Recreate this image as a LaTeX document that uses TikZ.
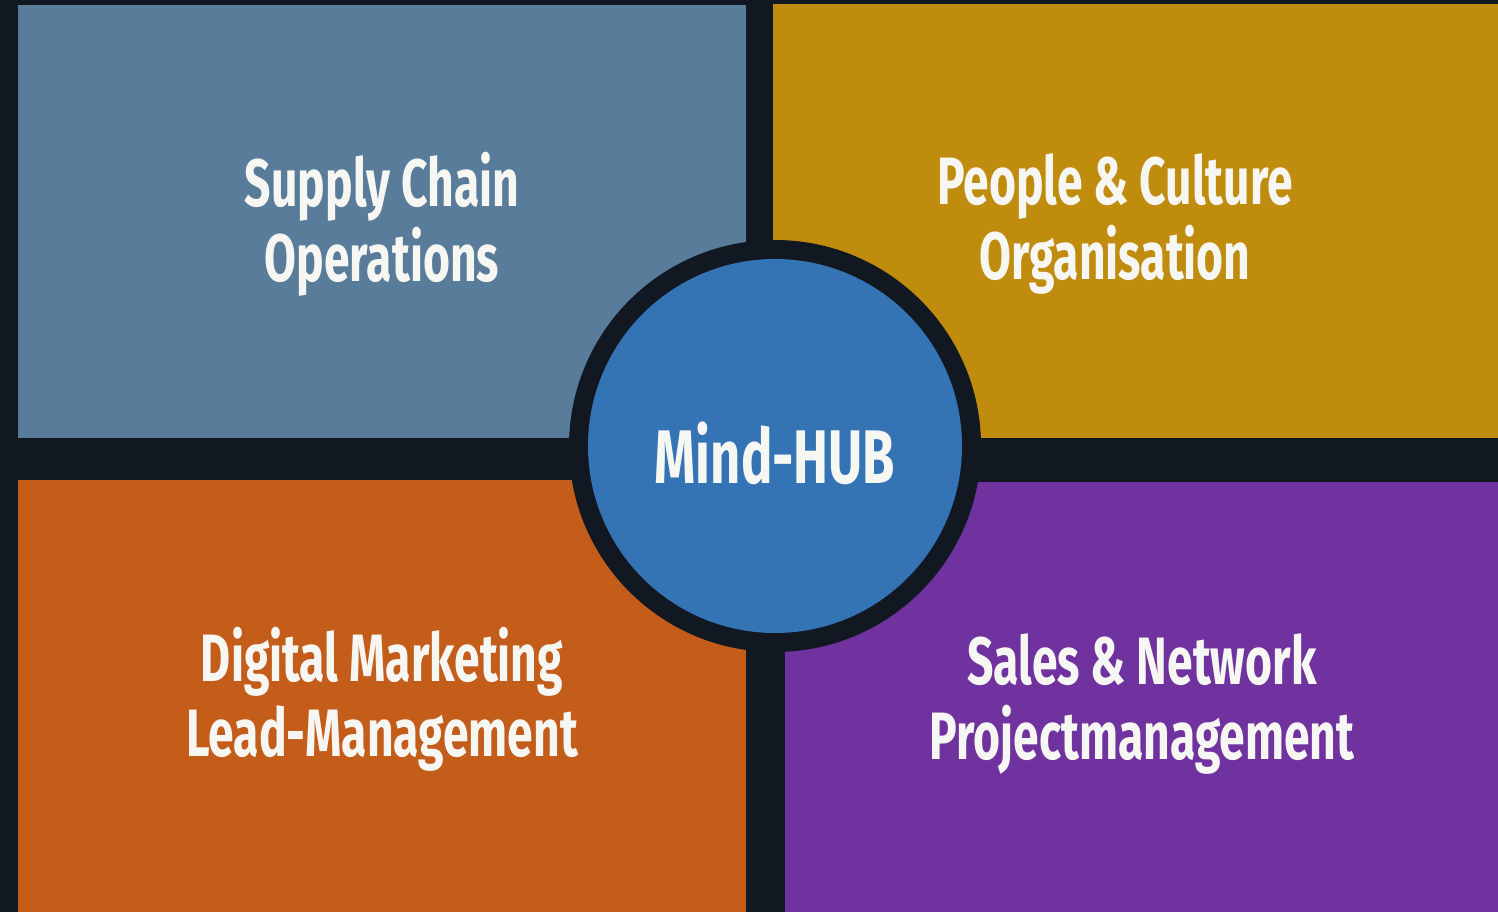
\documentclass[tikz,border=0pt]{standalone}
\usepackage{fontspec}
\newfontfamily\panelfont{Fira Sans}[FakeStretch=0.69]
\definecolor{bgdark}{RGB}{18,24,34}
\definecolor{slate}{RGB}{88,124,153}
\definecolor{gold}{RGB}{192,140,14}
\definecolor{rust}{RGB}{196,92,26}
\definecolor{violet}{RGB}{112,50,158}
\definecolor{hubblue}{RGB}{52,116,180}
\definecolor{textwhite}{RGB}{246,246,242}

\begin{document}
\begin{tikzpicture}[x=1pt,y=-1pt,
  panel/.style={rectangle,inner sep=0pt,draw=none},
  paneltext/.style={text=textwhite,align=center,font=\panelfont\bfseries\fontsize{67}{75}\selectfont},
  hubtext/.style={text=textwhite,font=\panelfont\bfseries\fontsize{76}{76}\selectfont}]
  \fill[bgdark] (0,0) rectangle (1498,912);
  \useasboundingbox (0,0) rectangle (1498,912);
  % the four panels
  \node[panel,fill=slate,minimum width=728pt,minimum height=433pt] (supply) at (382,221.5) {};
  \node[panel,fill=gold,minimum width=725pt,minimum height=434pt] (people) at (1135.5,221) {};
  \node[panel,fill=rust,minimum width=728pt,minimum height=432pt] (digital) at (382,696) {};
  \node[panel,fill=violet,minimum width=713pt,minimum height=430pt] (sales) at (1141.5,697) {};
  % the hub in the middle
  \node[circle,fill=bgdark,minimum size=412pt,inner sep=0pt] (ring) at (775,446) {};
  \node[circle,fill=hubblue,minimum size=374pt,inner sep=0pt] (hub) at (ring.center) {};
  % labels
  \node[paneltext] (supplylabel) at (382,224) {Supply Chain\\Operations};
  \node[paneltext] (peoplelabel) at (1115,224) {People \& Culture\\Organisation};
  \node[paneltext] (digitallabel) at (382,699) {Digital Marketing\\Lead-Management};
  \node[paneltext] (saleslabel) at (1142,704) {Sales \& Network\\Projectmanagement};
  \node[hubtext] (hublabel) at (775,453) {Mind-HUB};
\end{tikzpicture}
\end{document}
